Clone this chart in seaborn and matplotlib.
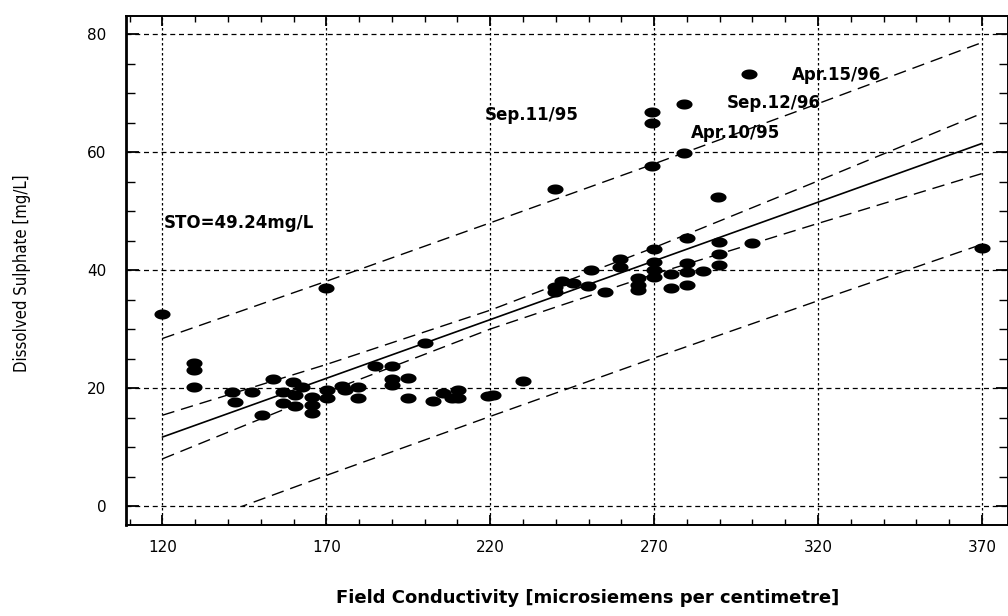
import numpy as np
import matplotlib.pyplot as plt
import seaborn as sns
from matplotlib.path import Path
from matplotlib.patches import Rectangle

# 1. Estilo
sns.set_theme(style="ticks")
plt.rcParams['font.family'] = ['DejaVu Sans']
plt.rcParams['text.color'] = 'black'
plt.rcParams['axes.labelcolor'] = 'black'

# 2. Dados
condutividade = [
    120.0, 129.7, 129.7, 129.7, 141.1, 142.1, 147.2, 150.3, 153.8,
    156.9, 156.9, 159.9, 160.4, 160.4, 162.5, 165.5, 165.5, 165.5,
    169.9, 170.1, 170.1, 174.7, 175.7, 179.7, 179.7, 184.8, 189.9,
    189.9, 189.9, 195.0, 195.0, 200.1, 202.6, 205.6, 208.2, 210.2,
    210.2, 219.4, 220.8, 230.1, 239.7, 239.7, 239.7, 241.8, 245.3,
    249.9, 250.7, 255.0, 259.6, 259.6, 265.0, 265.0, 265.0, 269.5,
    269.5, 269.5, 269.9, 269.9, 269.9, 269.9, 275.1, 275.1, 279.2,
    279.2, 279.9, 279.9, 279.9, 279.9, 284.8, 289.6, 289.9, 289.9,
    289.9, 299.0, 300.0, 369.9,
]
sulfato = [
    32.5, 24.2, 23.1, 20.2, 19.4, 17.7, 19.4, 15.4, 21.5,
    19.4, 17.4, 21.1, 18.8, 16.9, 20.1, 18.5, 17.1, 15.8,
    36.9, 19.7, 18.3, 20.3, 19.6, 20.2, 18.4, 23.8, 23.8,
    21.5, 20.6, 21.7, 18.4, 27.7, 17.8, 19.1, 18.4, 19.7,
    18.3, 18.7, 18.8, 21.2, 53.8, 37.2, 36.3, 38.1, 37.8,
    37.3, 40.0, 36.2, 41.9, 40.6, 38.6, 37.5, 36.6, 66.7,
    65.0, 57.6, 43.5, 41.4, 40.0, 38.9, 39.4, 37.0, 68.1,
    59.9, 45.4, 41.2, 39.7, 37.5, 39.9, 52.3, 44.7, 42.8,
    40.8, 73.3, 44.6, 43.8,
]

linha_x = [120, 170, 220, 270, 320, 370]
ajuste = [11.7, 21.65, 31.6, 41.55, 51.5, 61.45]
conf_sup = [15.4, 24.0, 33.2, 43.8, 55.1, 66.55]
conf_inf = [8.0, 19.3, 30.0, 39.3, 47.9, 56.35]
pred_sup = [28.4, 38.1, 48.0, 58.0, 68.2, 78.55]
pred_inf = [-5.0, 5.2, 15.2, 25.1, 34.8, 44.35]

rotulos = ["Sep.11/95", "Apr.15/96", "Sep.12/96", "Apr.10/95"]
rotulos_x = [218.3, 311.9, 292.1, 281.1]
rotulos_y = [66.3, 73.05, 68.25, 63.2]

# 3. Figura
fig = plt.figure(figsize=(10.08, 6.16), dpi=100)
ax = fig.add_axes([126 / 1008, 1 - 525 / 616, 882 / 1008, 509 / 616])

# marcador elíptico (pontos achatados do original)
t = np.linspace(0, 2 * np.pi, 40)
elipse = Path(np.column_stack([1.6 * np.cos(t), np.sin(t)]), closed=True)

tracejado = (0, (9, 5))
sns.lineplot(x=linha_x, y=ajuste, color="black", linewidth=1.2, ax=ax, zorder=3)
for serie in [conf_sup, conf_inf, pred_sup, pred_inf]:
    sns.lineplot(x=linha_x, y=serie, color="black", linewidth=1.0,
                 linestyle=tracejado, ax=ax, zorder=3)
# a faixa inferior de predição para em zero
ax.lines[-1].set_clip_path(Rectangle((100, 0), 300, 100, transform=ax.transData))

sns.scatterplot(x=condutividade, y=sulfato, marker=elipse, s=135, color="black",
                edgecolor="black", linewidth=0, ax=ax, zorder=4)

# textos
ax.text(120.4, 48.0, "STO=49.24mg/L", fontsize=12, fontweight="bold",
        ha="left", va="center")
for txt, x, y in zip(rotulos, rotulos_x, rotulos_y):
    ax.text(x, y, txt, fontsize=12, fontweight="bold", ha="left", va="center")

# eixos
ax.set_xlim(108.9, 108.9 + 882 / 3.278)
ax.set_ylim(-3.2, 83.05)
ax.set_xticks(range(120, 371, 50))
ax.set_xticks(range(110, 378, 10), minor=True)
ax.set_yticks(range(0, 81, 20))
ax.set_yticks(range(0, 83, 5), minor=True)

ax.tick_params(axis="both", which="both", direction="in", top=True, right=True,
               colors="black", labelsize=11)
ax.tick_params(axis="x", which="major", length=7, width=1.3, pad=11)
ax.tick_params(axis="x", which="minor", length=4.5, width=1.0)
ax.tick_params(axis="y", which="major", length=9, width=1.3, pad=14)
ax.tick_params(axis="y", which="minor", length=6.5, width=1.0)

ax.xaxis.grid(True, which="major", color="black", linestyle=(0, (2, 2)), linewidth=0.9)
ax.yaxis.grid(True, which="major", color="black", linestyle=(0, (4, 3)), linewidth=0.9)
ax.set_axisbelow(True)

for lado in ["left", "right", "top", "bottom"]:
    ax.spines[lado].set_color("black")
    ax.spines[lado].set_linewidth(1.4)
ax.spines["left"].set_linewidth(2.0)

ax.set_xlabel("Field Conductivity [microsiemens per centimetre]", fontsize=13,
              fontweight="bold", va="center")
ax.xaxis.set_label_coords(0.523, -0.143)
ax.set_ylabel("Dissolved Sulphate [mg/L]", fontsize=12, va="center",
              fontstretch="condensed")
ax.yaxis.set_label_coords(-0.118, 0.495)

plt.savefig("out.png", dpi=100, facecolor="white")
